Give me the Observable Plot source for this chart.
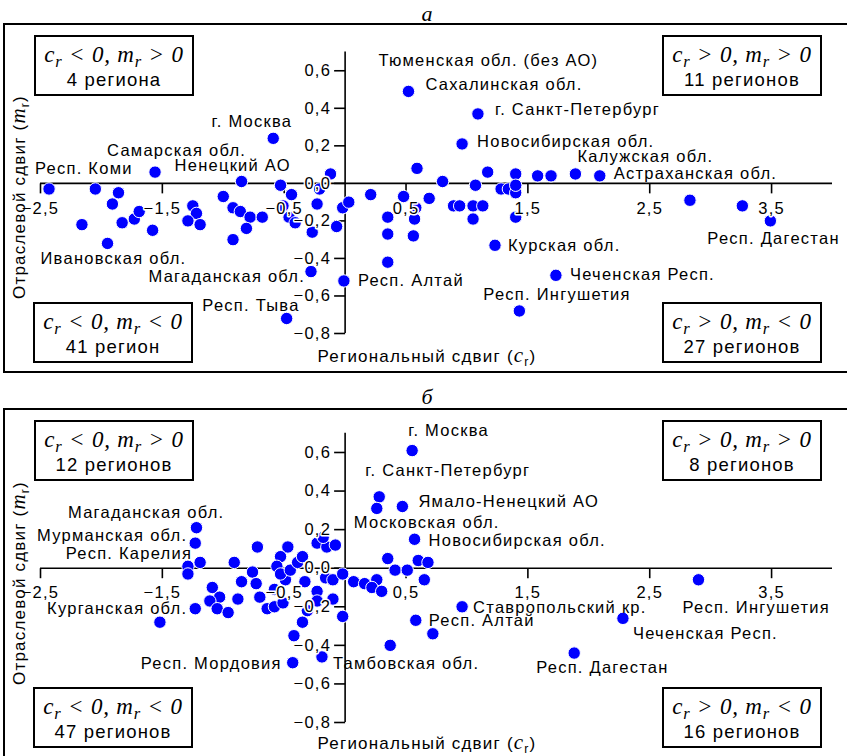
<!DOCTYPE html>
<html><head><meta charset="utf-8">
<script src="https://cdn.jsdelivr.net/npm/d3@7"></script>
<script src="https://cdn.jsdelivr.net/npm/@observablehq/plot@0.6"></script>
<style>
html,body{margin:0;padding:0;overflow:hidden;background:#fff;}
#page{position:relative;width:847px;height:756px;font-family:"Liberation Sans",Arial,sans-serif;color:#000;}
.letter{position:absolute;width:40px;left:407px;text-align:center;font:italic 22px "Liberation Serif","Times New Roman",serif;line-height:22px;}
.frame{position:absolute;border:2px solid #000;box-sizing:border-box;pointer-events:none;}
.plotwrap{position:absolute;left:0;}
.qbox{position:absolute;width:160px;height:61px;border:2px solid #000;box-sizing:border-box;background:#fff;}
.qbox .f{position:absolute;left:0;right:0;top:5px;text-align:center;font:italic 23px "Liberation Serif","Times New Roman",serif;line-height:26px;letter-spacing:0.8px;white-space:nowrap;}
.qbox .n{position:absolute;left:0;right:0;top:32px;text-align:center;font-size:18.5px;line-height:22px;letter-spacing:1.2px;white-space:nowrap;}
.sub{font-size:0.72em;position:relative;top:0.3em;}
.atitle{position:absolute;font-size:17px;letter-spacing:1.2px;white-space:nowrap;line-height:20px;}
.atitle i{font-family:"Liberation Serif","Times New Roman",serif;font-size:21px;}
</style>
</head><body><div id="page"></div>
<script>
// ---- Axis ticks ----
const xTicks = [-2.5, -1.5, -0.5, 0.5, 1.5, 2.5, 3.5];
const xTickLabels = ["−2,5", "−1,5", "−0,5", "0,5", "1,5", "2,5", "3,5"];
const yTicks = [-0.8, -0.6, -0.4, -0.2, 0, 0.2, 0.4, 0.6];
const yTickLabels = ["−0,8", "−0,6", "−0,4", "−0,2", "0,0", "0,2", "0,4", "0,6"];

// ---- Panel а: unlabeled regions ----
const crA = [-2.05,-1.86,-1.91,-2.16,-1.83,-1.73,-1.69,-1.58,-1.25,-1.22,-1.29,-1.19,-1.00,-0.92,-0.86,-0.78,-0.68,-0.81,-0.92,
  -0.53,-0.44,-0.51,-0.46,-0.41,-0.23,-0.21,-0.12,-0.27,-0.07,-0.02,0.03,0.21,0.35,0.35,0.35,0.48,0.57,0.56,0.58,0.59,
  0.69,0.80,0.89,0.94,1.05,1.13,1.05,1.07,1.17,1.28,1.34,1.40,1.40,1.40,1.40,1.58,1.69,2.83,3.26];
const mrA = [-0.03,-0.05,-0.11,-0.22,-0.21,-0.19,-0.15,-0.25,-0.12,-0.16,-0.20,-0.22,-0.07,-0.13,-0.15,-0.18,-0.18,-0.24,-0.30,
  -0.01,-0.06,-0.12,-0.18,-0.21,-0.11,-0.03,0.05,-0.26,-0.23,-0.13,-0.10,-0.06,-0.18,-0.27,-0.42,-0.07,-0.19,-0.28,-0.13,0.08,
  -0.08,0.01,-0.12,-0.12,-0.12,-0.12,-0.19,-0.01,0.06,-0.03,-0.03,-0.05,0.05,-0.01,-0.18,0.04,0.04,-0.09,-0.12];
// Panel а: labeled regions
const labNamesA = ["Респ. Коми","Ивановская обл.","Самарская обл.","г. Москва","Ненецкий АО","Магаданская обл.","Респ. Тыва","Респ. Алтай",
  "Тюменская обл. (без АО)","Сахалинская обл.","г. Санкт-Петербург","Новосибирская обл.","Калужская обл.","Астраханская обл.",
  "Курская обл.","Чеченская Респ.","Респ. Ингушетия","Респ. Дагестан"];
const labCrA = [-2.43,-1.95,-1.56,-0.59,-0.85,-0.28,-0.48,-0.01,0.52,0.52,1.09,0.96,1.89,2.09,1.23,1.73,1.43,3.49];
const labMrA = [-0.03,-0.32,0.06,0.24,0.01,-0.47,-0.72,-0.52,0.49,0.49,0.37,0.21,0.05,0.04,-0.33,-0.49,-0.68,-0.20];
const quadCountsA = ["4 региона", "11 регионов", "41 регион", "27 регионов"];

// ---- Panel б: unlabeled regions ----
const crB = [0.35,0.41,0.51,0.60,0.68,0.65,-1.29,-1.29,-0.91,-0.72,-0.47,-0.53,-0.56,-0.76,-0.85,-1.09,-1.03,-1.11,-1.05,-0.96,
  -0.88,-1.52,-0.70,-0.64,-0.58,-0.51,-0.58,-0.49,-0.53,-0.45,-0.39,-0.35,-0.23,-0.15,-0.18,-0.33,-0.23,-0.23,-0.31,-0.35,
  -0.42,-0.10,-0.02,-0.16,-0.10,-0.02,-0.08,0.07,0.16,0.26,0.22,0.30,0.37,0.72,-0.73];
const mrB = [0.05,-0.01,-0.01,0.04,0.03,-0.06,0.01,-0.03,0.03,0.11,0.11,0.06,0.01,-0.02,-0.07,-0.10,-0.15,-0.17,-0.21,-0.23,
  -0.16,-0.28,-0.15,-0.21,-0.20,-0.18,-0.11,-0.06,-0.03,-0.01,0.03,0.06,0.13,0.11,0.16,-0.07,-0.12,-0.17,-0.22,-0.28,
  -0.35,-0.16,-0.25,-0.05,-0.06,-0.03,0.12,-0.07,-0.08,-0.06,-0.10,-0.12,-0.40,-0.34,-0.08];
// Panel б: labeled regions
const labNamesB = ["г. Москва","г. Санкт-Петербург","Московская обл.","Ямало-Ненецкий АО","Новосибирская обл.","Магаданская обл.",
  "Мурманская обл.","Респ. Карелия","Курганская обл.","Респ. Мордовия","Тамбовская обл.","Респ. Алтай","Ставропольский кр.",
  "Чеченская Респ.","Респ. Дагестан","Респ. Ингушетия"];
const labCrB = [0.55,0.28,0.26,0.47,0.57,-1.22,-1.23,-1.19,-1.23,-0.43,-0.19,0.58,0.96,2.28,1.88,2.90];
const labMrB = [0.61,0.37,0.31,0.32,0.15,0.21,0.13,0.03,-0.21,-0.49,-0.46,-0.27,-0.20,-0.26,-0.44,-0.06];
const quadCountsB = ["12 регионов", "8 регионов", "47 регионов", "16 регионов"];

// ---- label placement (px offsets from the dot) ----
const layoutA = {
  "Респ. Коми": [-14,-20,"start"], "Ивановская обл.": [-67,15,"start"], "Самарская обл.": [-48,-21,"start"],
  "г. Москва": [19,-17,"end"], "Ненецкий АО": [-67,-16,"start"], "Магаданская обл.": [-6,5,"end"],
  "Респ. Тыва": [13,-13,"end"], "Респ. Алтай": [14,0,"start"], "Тюменская обл. (без АО)": [-30,-31,"start"],
  "Сахалинская обл.": [17,-7,"start"], "г. Санкт-Петербург": [17,-4,"start"], "Новосибирская обл.": [15,-2,"start"],
  "Калужская обл.": [2,-17,"start"], "Астраханская обл.": [14,-2,"start"], "Курская обл.": [13,0,"start"],
  "Чеченская Респ.": [14,-1,"start"], "Респ. Ингушетия": [-36,-16,"start"], "Респ. Дагестан": [-63,18,"start"]
};
const layoutB = {
  "г. Москва": [-4,-20,"start"], "г. Санкт-Петербург": [-14,-26,"start"], "Ямало-Ненецкий АО": [16,-5,"start"],
  "Московская обл.": [-23,14,"start"], "Новосибирская обл.": [14,1,"start"], "Магаданская обл.": [28,-15,"end"],
  "Мурманская обл.": [-8,-7,"end"], "Респ. Карелия": [-8,-9,"end"], "Курганская обл.": [-8,0,"end"],
  "Респ. Мордовия": [-11,1,"end"], "Тамбовская обл.": [11,7,"start"], "Респ. Алтай": [13,0,"start"],
  "Ставропольский кр.": [11,1,"start"], "Чеченская Респ.": [10,15,"start"], "Респ. Дагестан": [-38,15,"start"],
  "Респ. Ингушетия": [-16,28,"start"]
};

const tickDown = {draw(ctx){ ctx.moveTo(0,0); ctx.lineTo(0,10); }};
const tickLeft = {draw(ctx){ ctx.moveTo(0,0); ctx.lineTo(-11,0); }};
const FONT = "Liberation Sans, Arial, sans-serif";

function makePanel(cr, mr, labNames, labCr, labMr, layout, height, mt, mb) {
  const pts = cr.map((c, i) => ({c, m: mr[i]}))
    .concat(labNames.map((n, i) => ({c: labCr[i], m: labMr[i], name: n})));
  const labeled = pts.filter(d => d.name);
  const labelMarks = labeled.map(d => {
    const [dx, dy, anchor] = layout[d.name];
    return Plot.text([d], {x: "c", y: "m", text: "name", dx, dy, textAnchor: anchor, lineAnchor: "middle",
      fontSize: 16.5, fill: "#000", fontFamily: FONT});
  });
  return Plot.plot({
    width: 847, height, marginLeft: 40, marginRight: 15, marginTop: mt, marginBottom: mb,
    x: {domain: [-2.5, 4.0], axis: null},
    y: {domain: [-0.8, 0.7], axis: null},
    style: {background: "transparent", overflow: "visible", fontFamily: FONT, letterSpacing: "1.25px"},
    marks: [
      Plot.ruleY([0], {x1: -2.5, x2: 4.0, stroke: "#000", strokeWidth: 1.6}),
      Plot.ruleX([0], {y1: -0.8, y2: 0.7, stroke: "#000", strokeWidth: 1.6}),
      Plot.dot(xTicks, {x: d => d, y: 0, symbol: tickDown, stroke: "#000", strokeWidth: 1.6, fill: "none"}),
      Plot.dot(yTicks, {x: 0, y: d => d, symbol: tickLeft, stroke: "#000", strokeWidth: 1.6, fill: "none"}),
      Plot.dot(pts, {x: "c", y: "m", r: 6.2, fill: "#0000ff", stroke: "#fff", strokeWidth: 1}),
      Plot.text(xTicks, {x: d => d, y: 0, text: (d, i) => xTickLabels[i], dy: 25, lineAnchor: "middle",
        fontSize: 16.5, fill: "#000", stroke: "#fff", strokeWidth: 3, fontFamily: FONT}),
      Plot.text(yTicks, {x: 0, y: d => d, text: (d, i) => yTickLabels[i], dx: -14, textAnchor: "end", lineAnchor: "middle",
        fontSize: 16.5, fill: "#000", stroke: "#fff", strokeWidth: 3, fontFamily: FONT}),
      ...labelMarks
    ]
  });
}

const page = document.getElementById("page");
function el(html) { const t = document.createElement("template"); t.innerHTML = html.trim(); return t.content.firstChild; }

function addPanel(opts) {
  const {letter, letterTop, frameTop, frameHeight, svgTop, svgHeight, mt, mb, data, counts, boxTops, xTitleTop, yTitleCenter} = opts;
  page.appendChild(el(`<div class="letter" style="top:${letterTop}px">${letter}</div>`));
  const wrap = el(`<div class="plotwrap" style="top:${svgTop}px"></div>`);
  wrap.appendChild(makePanel(...data, svgHeight, mt, mb));
  page.appendChild(wrap);
  page.appendChild(el(`<div class="frame" style="left:3px;top:${frameTop}px;width:870px;height:${frameHeight}px"></div>`));
  const formulas = [
    `<i>c</i><span class="sub">r</span> &lt; 0, <i>m</i><span class="sub">r</span> &gt; 0`,
    `<i>c</i><span class="sub">r</span> &gt; 0, <i>m</i><span class="sub">r</span> &gt; 0`,
    `<i>c</i><span class="sub">r</span> &lt; 0, <i>m</i><span class="sub">r</span> &lt; 0`,
    `<i>c</i><span class="sub">r</span> &gt; 0, <i>m</i><span class="sub">r</span> &lt; 0`
  ];
  const lefts = [34, 662, 33, 662];
  const tops = [boxTops[0], boxTops[0], boxTops[1], boxTops[1]];
  formulas.forEach((f, i) => {
    page.appendChild(el(`<div class="qbox" style="left:${lefts[i]}px;top:${tops[i]}px"><div class="f">${f}</div><div class="n">${counts[i]}</div></div>`));
  });
  page.appendChild(el(`<div class="atitle" style="left:427px;top:${xTitleTop}px;transform:translateX(-50%)">Региональный сдвиг (<i>c</i><span class="sub">r</span>)</div>`));
  page.appendChild(el(`<div class="atitle" style="left:19px;top:${yTitleCenter}px;transform:translate(-50%,-50%) rotate(-90deg)">Отраслевой сдвиг (<i>m</i><span class="sub">r</span>)</div>`));
}

addPanel({letter: "а", letterTop: 3, frameTop: 23, frameHeight: 350, svgTop: 24, svgHeight: 348, mt: 27.5, mb: 39,
  data: [crA, mrA, labNamesA, labCrA, labMrA, layoutA], counts: quadCountsA, boxTops: [35, 302],
  xTitleTop: 345, yTitleCenter: 197});
addPanel({letter: "б", letterTop: 386, frameTop: 408, frameHeight: 400, svgTop: 409, svgHeight: 347, mt: 23.7, mb: 34,
  data: [crB, mrB, labNamesB, labCrB, labMrB, layoutB], counts: quadCountsB, boxTops: [420, 687],
  xTitleTop: 732, yTitleCenter: 583});
</script>
</body></html>
